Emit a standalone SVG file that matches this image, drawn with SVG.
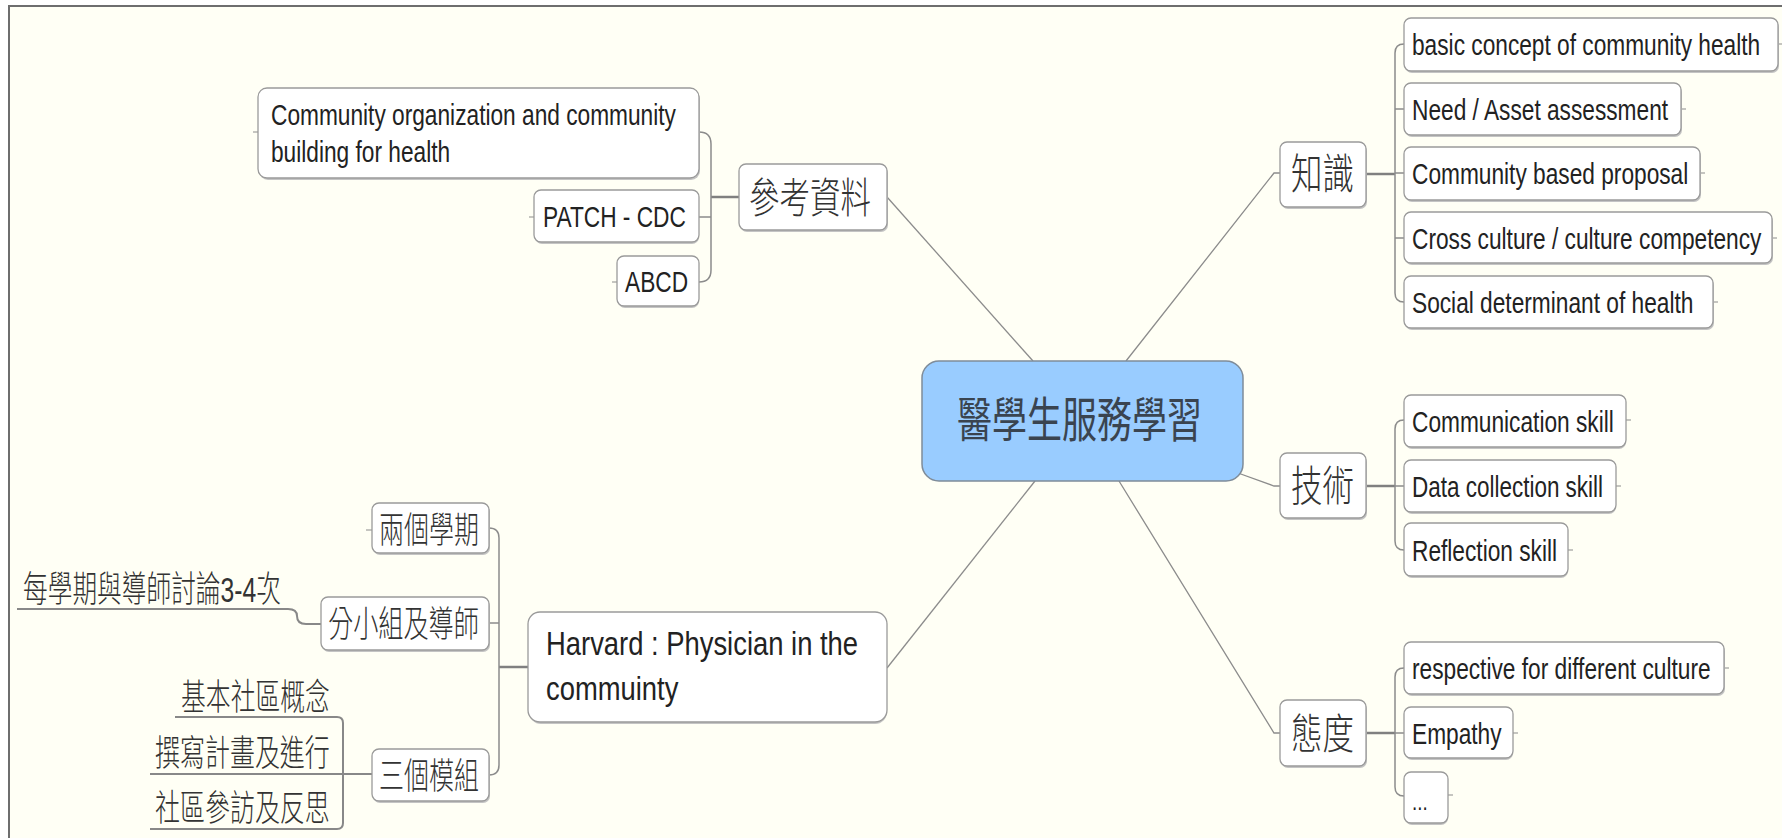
<svg xmlns="http://www.w3.org/2000/svg" width="1782" height="838" viewBox="0 0 1782 838">
<style>
.bg{fill:#fffff5}
.frame{stroke:#6e6e6e;stroke-width:2;fill:none}
.box{fill:#ffffff;stroke:#9a9a9a;stroke-width:1.3}
.shadow{fill:#c4c4c4}
.center{fill:#99ccff;stroke:#7f8c99;stroke-width:1.5}
.main{stroke:#8c8c8c;stroke-width:1.3;fill:none}
.sub{stroke:#8c8c8c;stroke-width:1.5;fill:none}
.thick{stroke:#808080;stroke-width:2.5;fill:none}
.tick{stroke:#8c8c8c;stroke-width:1.2;fill:none}
.uline{stroke:#888888;stroke-width:2;fill:none}
.lat{font-family:"Liberation Sans",Arial,sans-serif;font-size:29px;fill:#222}
.har{font-family:"Liberation Sans",Arial,sans-serif;font-size:34px;fill:#222}
.cjk{font-family:"Noto Sans CJK TC","Noto Sans CJK SC",sans-serif;font-size:36px;font-weight:300;fill:#333}
.cjk2{font-family:"Noto Sans CJK TC","Noto Sans CJK SC",sans-serif;font-size:42px;font-weight:300;fill:#333}
.cjk3{font-family:"Noto Sans CJK TC","Noto Sans CJK SC",sans-serif;font-size:48px;fill:#3a4450}
.mix{font-family:"Liberation Sans","Noto Sans CJK TC",sans-serif;font-size:36px;font-weight:300;fill:#333}
</style>
<rect x="0" y="0" width="1782" height="838" fill="#ffffff"/>
<rect class="bg" x="9" y="6" width="1773" height="832"/>
<path class="frame" d="M9,838 V6 H1782"/>

<g id="connectors">
  <path class="main" d="M887,197 L1033,361"/>
  <path class="main" d="M1126,361 L1274,173 L1280,173"/>
  <path class="main" d="M1238,473 L1274,486 L1280,486"/>
  <path class="main" d="M1119,481 L1274,733 L1280,733"/>
  <path class="main" d="M1035,481 L887,668"/>
  <path class="thick" d="M711,197 H739"/>
  <path class="sub" d="M699,132 Q711,132 711,144 V270 Q711,282 699,282 M699,217 H711"/>
  <path class="thick" d="M1366,174 H1395"/>
  <path class="sub" d="M1404,44 Q1395,44 1395,53 V293 Q1395,302 1404,302 M1395,109 H1404 M1395,173 H1404 M1395,238 H1404"/>
  <path class="thick" d="M1366,486 H1395"/>
  <path class="sub" d="M1404,420 Q1395,420 1395,429 V541 Q1395,550 1404,550 M1395,486 H1404"/>
  <path class="thick" d="M1366,733 H1395"/>
  <path class="sub" d="M1404,668 Q1395,668 1395,677 V787 Q1395,796 1404,796 M1395,733 H1404"/>
  <path class="thick" d="M499,667 H528"/>
  <path class="sub" d="M489,528 Q499,528 499,538 V765 Q499,775 489,775 M489,623 H499"/>
  <path class="uline" d="M17,609 H288 Q297,609 297,616 Q297,624 306,624 H321"/>
  <path class="uline" d="M175,717 H337 Q343,717 343,723 V823 Q343,829 337,829 H150 M150,774 H372"/>
  <path class="tick" d="M1778,44 H1782 M1681,109 H1686 M1700,173 H1705 M1772,238 H1777 M1713,302 H1718 M1626,420 H1631 M1616,486 H1621 M1568,550 H1573 M1724,668 H1729 M1513,733 H1518 M1448,795 H1453 M253,132 H258 M529,217 H534 M612,282 H617 M366,530 H372"/>
</g>

<g id="n-center">
  <rect class="center" x="922" y="361" width="321" height="120" rx="17"/>
  <text class="cjk3" transform="matrix(0.729 0 0 1 957 437)">醫學生服務學習</text>
</g>

<g id="n-ref">
  <rect class="shadow" x="740" y="166" width="148" height="66" rx="7"/>
  <rect class="box" x="739" y="164" width="148" height="66" rx="7"/>
  <text class="cjk2" transform="matrix(0.726 0 0 1 749 213)">參考資料</text>
</g>
<g id="n-ref-1">
  <rect class="shadow" x="259" y="90" width="441" height="90" rx="9"/>
  <rect class="box" x="258" y="88" width="441" height="90" rx="9"/>
  <text class="lat" transform="matrix(0.783 0 0 1 271 125)">Community organization and community</text>
  <text class="lat" transform="matrix(0.783 0 0 1 271 162)">building for health</text>
</g>
<g id="n-ref-2">
  <rect class="shadow" x="535" y="192" width="164" height="52" rx="7"/>
  <rect class="box" x="534" y="190" width="165" height="52" rx="7"/>
  <text class="lat" transform="matrix(0.783 0 0 1 543 227)">PATCH - CDC</text>
</g>
<g id="n-ref-3">
  <rect class="shadow" x="618" y="258" width="81" height="50" rx="7"/>
  <rect class="box" x="617" y="256" width="82" height="50" rx="7"/>
  <text class="lat" transform="matrix(0.783 0 0 1 625 292)">ABCD</text>
</g>

<g id="n-know">
  <rect class="shadow" x="1281" y="144" width="86" height="65" rx="7"/>
  <rect class="box" x="1280" y="142" width="86" height="65" rx="7"/>
  <text class="cjk2" transform="matrix(0.75 0 0 1 1291 189)">知識</text>
</g>
<g id="n-know-1">
  <rect class="shadow" x="1405" y="20" width="374" height="53" rx="7"/>
  <rect class="box" x="1404" y="18" width="374" height="53" rx="7"/>
  <text class="lat" transform="matrix(0.783 0 0 1 1412 55)">basic concept of community health</text>
</g>
<g id="n-know-2">
  <rect class="shadow" x="1405" y="85" width="277" height="52" rx="7"/>
  <rect class="box" x="1404" y="83" width="277" height="52" rx="7"/>
  <text class="lat" transform="matrix(0.783 0 0 1 1412 120)">Need / Asset assessment</text>
</g>
<g id="n-know-3">
  <rect class="shadow" x="1405" y="149" width="296" height="53" rx="7"/>
  <rect class="box" x="1404" y="147" width="296" height="53" rx="7"/>
  <text class="lat" transform="matrix(0.783 0 0 1 1412 184)">Community based proposal</text>
</g>
<g id="n-know-4">
  <rect class="shadow" x="1405" y="214" width="368" height="51" rx="7"/>
  <rect class="box" x="1404" y="212" width="368" height="51" rx="7"/>
  <text class="lat" transform="matrix(0.783 0 0 1 1412 249)">Cross culture / culture competency</text>
</g>
<g id="n-know-5">
  <rect class="shadow" x="1405" y="278" width="309" height="52" rx="7"/>
  <rect class="box" x="1404" y="276" width="309" height="52" rx="7"/>
  <text class="lat" transform="matrix(0.783 0 0 1 1412 313)">Social determinant of health</text>
</g>

<g id="n-skill">
  <rect class="shadow" x="1281" y="455" width="86" height="65" rx="7"/>
  <rect class="box" x="1280" y="453" width="86" height="65" rx="7"/>
  <text class="cjk2" transform="matrix(0.75 0 0 1 1291 501)">技術</text>
</g>
<g id="n-skill-1">
  <rect class="shadow" x="1405" y="397" width="221" height="52" rx="7"/>
  <rect class="box" x="1404" y="395" width="222" height="52" rx="7"/>
  <text class="lat" transform="matrix(0.783 0 0 1 1412 432)">Communication skill</text>
</g>
<g id="n-skill-2">
  <rect class="shadow" x="1405" y="462" width="211" height="52" rx="7"/>
  <rect class="box" x="1404" y="460" width="212" height="52" rx="7"/>
  <text class="lat" transform="matrix(0.775 0 0 1 1412 497)">Data collection skill</text>
</g>
<g id="n-skill-3">
  <rect class="shadow" x="1405" y="525" width="163" height="53" rx="7"/>
  <rect class="box" x="1404" y="523" width="164" height="53" rx="7"/>
  <text class="lat" transform="matrix(0.783 0 0 1 1412 561)">Reflection skill</text>
</g>

<g id="n-att">
  <rect class="shadow" x="1281" y="702" width="86" height="66" rx="7"/>
  <rect class="box" x="1280" y="700" width="86" height="66" rx="7"/>
  <text class="cjk2" transform="matrix(0.75 0 0 1 1291 749)">態度</text>
</g>
<g id="n-att-1">
  <rect class="shadow" x="1405" y="644" width="320" height="52" rx="7"/>
  <rect class="box" x="1404" y="642" width="320" height="52" rx="7"/>
  <text class="lat" transform="matrix(0.783 0 0 1 1412 679)">respective for different culture</text>
</g>
<g id="n-att-2">
  <rect class="shadow" x="1405" y="709" width="108" height="51" rx="7"/>
  <rect class="box" x="1404" y="707" width="109" height="51" rx="7"/>
  <text class="lat" transform="matrix(0.783 0 0 1 1412 744)">Empathy</text>
</g>
<g id="n-att-3">
  <rect class="shadow" x="1405" y="774" width="43" height="51" rx="7"/>
  <rect class="box" x="1404" y="772" width="44" height="51" rx="7"/>
  <text class="lat" transform="matrix(0.783 0 0 1 1412 810)" style="font-size:24px">...</text>
</g>

<g id="n-harvard">
  <rect class="shadow" x="529" y="614" width="358" height="110" rx="12"/>
  <rect class="box" x="528" y="612" width="359" height="110" rx="12"/>
  <text class="har" transform="matrix(0.806 0 0 1 546 655)">Harvard : Physician in the</text>
  <text class="har" transform="matrix(0.806 0 0 1 546 700)">commuinty</text>
</g>
<g id="n-h1">
  <rect class="shadow" x="373" y="505" width="117" height="50" rx="7"/>
  <rect class="box" x="372" y="503" width="117" height="50" rx="7"/>
  <text class="cjk" transform="matrix(0.694 0 0 1 379 543)">兩個學期</text>
</g>
<g id="n-h2">
  <rect class="shadow" x="322" y="599" width="168" height="53" rx="7"/>
  <rect class="box" x="321" y="597" width="168" height="53" rx="7"/>
  <text class="cjk" transform="matrix(0.699 0 0 1 328 637)">分小組及導師</text>
</g>
<g id="n-h2-1">
  <text class="mix" transform="matrix(0.686 0 0 1 23 602)">每學期與導師討論3-4次</text>
</g>
<g id="n-h3">
  <rect class="shadow" x="373" y="751" width="117" height="52" rx="7"/>
  <rect class="box" x="372" y="749" width="117" height="52" rx="7"/>
  <text class="cjk" transform="matrix(0.694 0 0 1 379 789)">三個模組</text>
</g>
<g id="n-h3-1">
  <text class="cjk" transform="matrix(0.69 0 0 1 181 710)">基本社區概念</text>
</g>
<g id="n-h3-2">
  <text class="cjk" transform="matrix(0.694 0 0 1 155 766)">撰寫計畫及進行</text>
</g>
<g id="n-h3-3">
  <text class="cjk" transform="matrix(0.694 0 0 1 155 821)">社區參訪及反思</text>
</g>
</svg>
